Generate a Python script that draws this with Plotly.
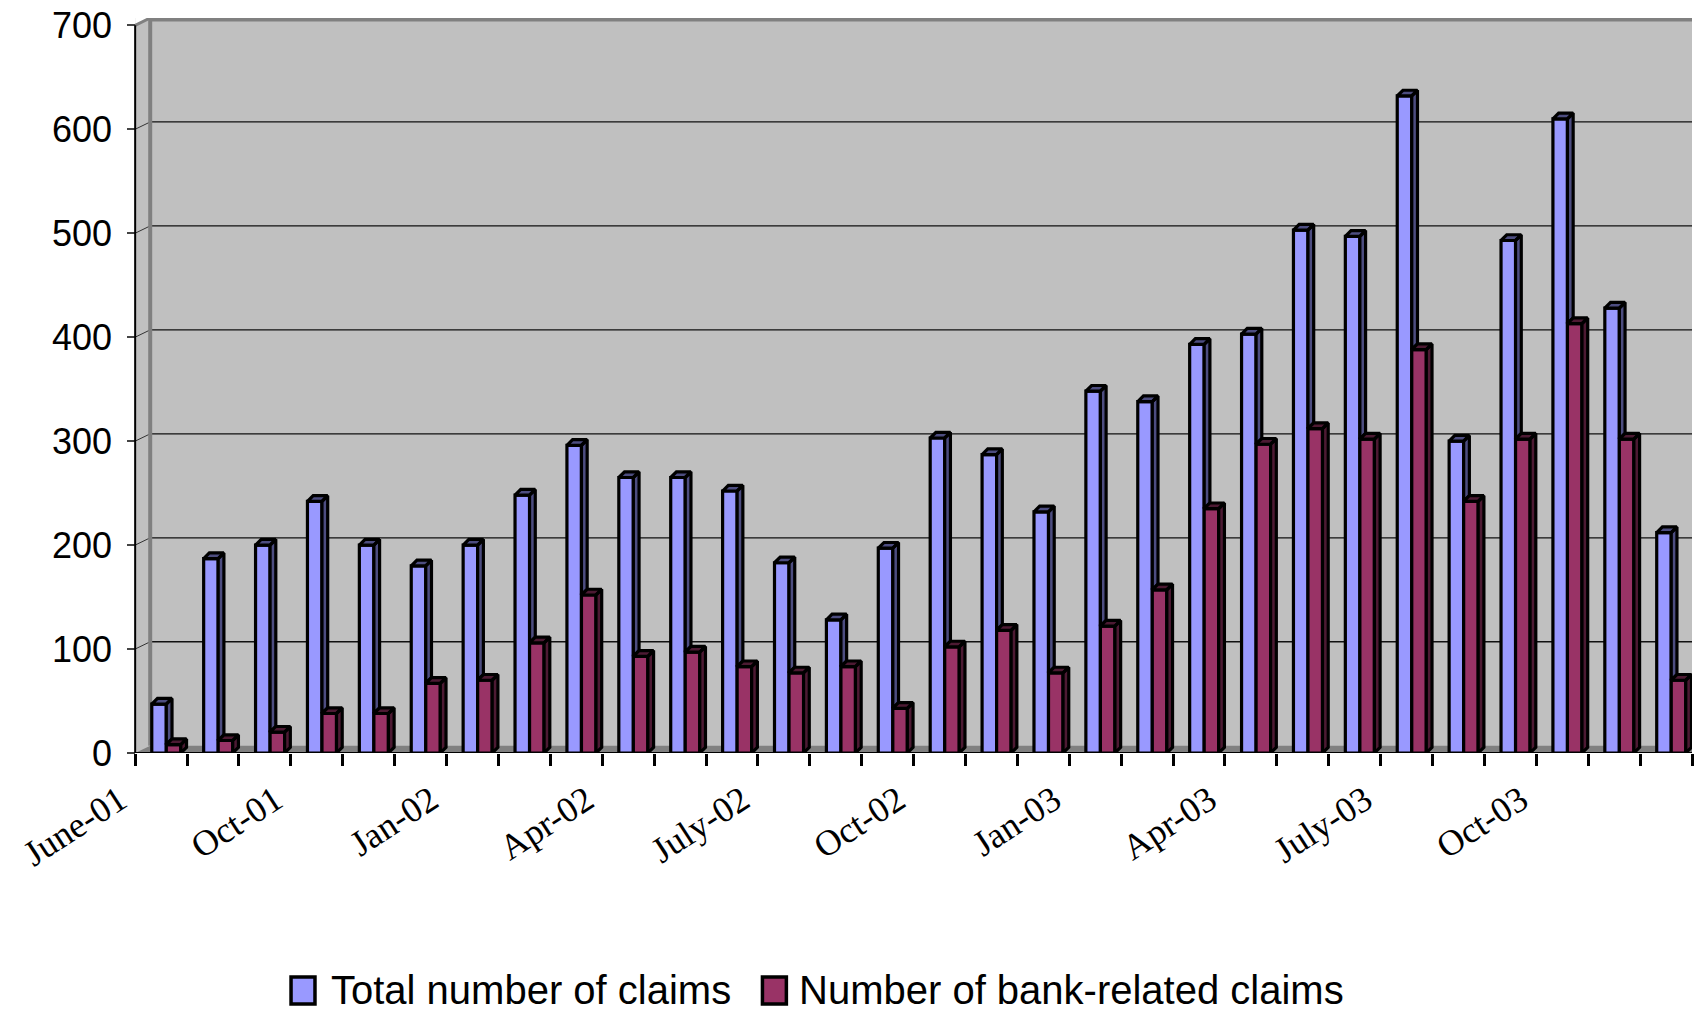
import plotly.graph_objects as go

# Monthly claims, June 2001 - November 2003
months = ["Jun-01", "Jul-01", "Aug-01", "Sep-01", "Oct-01", "Nov-01", "Dec-01",
          "Jan-02", "Feb-02", "Mar-02", "Apr-02", "May-02", "Jun-02", "Jul-02",
          "Aug-02", "Sep-02", "Oct-02", "Nov-02", "Dec-02", "Jan-03", "Feb-03",
          "Mar-03", "Apr-03", "May-03", "Jun-03", "Jul-03", "Aug-03", "Sep-03",
          "Oct-03", "Nov-03"]
total_claims = [47, 187, 200, 242, 200, 180, 200, 248, 296, 265,
                265, 252, 183, 128, 197, 303, 287, 232, 348, 338,
                393, 403, 503, 497, 632, 300, 493, 610, 428, 212]
bank_claims = [8, 12, 20, 38, 38, 67, 70, 106, 152, 93,
               97, 83, 77, 83, 43, 102, 118, 77, 122, 157,
               235, 297, 312, 302, 388, 242, 302, 413, 302, 70]

# axis labels shown every third category boundary
tick_labels = ["June-01", "Oct-01", "Jan-02", "Apr-02", "July-02",
               "Oct-02", "Jan-03", "Apr-03", "July-03", "Oct-03"]
y_ticks = [0, 100, 200, 300, 400, 500, 600, 700]
series_names = ["Total number of claims", "Number of bank-related claims"]

BLUE = "#9999FF"
BLUE_DARK = "#4D4D80"
MAROON = "#993366"
MAROON_DARK = "#4D1A33"

n = len(months)
idx = list(range(n))

# bar geometry in axis units
BAR_W = 0.28        # width of each bar
PAIR_SHIFT = 0.10   # shift of the pair centre within its category
EXT_X, EXT_Y = 0.11, 5.5    # bar extrusion (depth) offsets
WALL_X, WALL_Y = 0.29, 7    # back-wall offsets
LABEL_SHIFT = 0.3           # rotated labels end just left of their boundary
X0, X1 = -0.5, n - 0.5      # category axis extent
XR0 = -0.85                 # range start leaves room for the first label
Y_TOP = 707

fig = go.Figure()

fig.add_trace(go.Bar(
    x=idx, y=total_claims, name=series_names[0], showlegend=False,
    width=BAR_W, offset=PAIR_SHIFT - BAR_W,
    marker=dict(color=BLUE, line=dict(color="black", width=3.2)),
))
fig.add_trace(go.Bar(
    x=idx, y=bank_claims, name=series_names[1], showlegend=False,
    width=BAR_W, offset=PAIR_SHIFT,
    marker=dict(color=MAROON, line=dict(color="black", width=3.2)),
))


def extrusion(values, left_offset, clip_below=None):
    """Top and right-side faces for each bar, as gap-separated polygons."""
    xs, ys = [], []
    for i, v in enumerate(values):
        xl = i + left_offset
        xr = xl + BAR_W
        # top face
        xs += [xl, xr, xr + EXT_X, xl + EXT_X, xl, None]
        ys += [v, v, v + EXT_Y, v + EXT_Y, v, None]
        # side face (partly hidden by the neighbouring bar)
        base = 0 if clip_below is None else clip_below[i]
        if v > base:
            xs += [xr, xr + EXT_X, xr + EXT_X, xr, xr, None]
            ys += [base, base + EXT_Y, v + EXT_Y, v, base, None]
    return xs, ys


bx, by = extrusion(total_claims, PAIR_SHIFT - BAR_W, clip_below=bank_claims)
fig.add_trace(go.Scatter(
    x=bx, y=by, mode="lines", fill="toself", fillcolor=BLUE_DARK,
    line=dict(color="black", width=3.2), showlegend=False, hoverinfo="skip",
))
mx, my = extrusion(bank_claims, PAIR_SHIFT)
fig.add_trace(go.Scatter(
    x=mx, y=my, mode="lines", fill="toself", fillcolor=MAROON_DARK,
    line=dict(color="black", width=3.2), showlegend=False, hoverinfo="skip",
))

# walls, floor and gridlines of the chart box
shapes = []
wx = X0 + WALL_X
# blank strip left of the value axis
shapes.append(dict(type="rect", layer="below", line=dict(width=0),
                   fillcolor="white", x0=XR0, x1=X0, y0=0, y1=Y_TOP))
shapes.append(dict(type="path", layer="below", line=dict(width=0),
                   fillcolor="#808080",
                   path=f"M {X0},0 L {wx},{WALL_Y} L {X1},{WALL_Y} L {X1},0 Z"))
for v in y_ticks[1:-1]:
    shapes.append(dict(type="line", layer="below", x0=wx, x1=X1,
                       y0=v + WALL_Y, y1=v + WALL_Y,
                       line=dict(color="#111111", width=1.3)))
    shapes.append(dict(type="line", layer="below", x0=X0, x1=wx,
                       y0=v, y1=v + WALL_Y,
                       line=dict(color="#333333", width=1)))
shapes.append(dict(type="path", layer="below", line=dict(width=0),
                   fillcolor="white",
                   path=f"M {X0},{y_ticks[-1]} L {X0},{Y_TOP} L {wx},{Y_TOP} Z"))
shapes.append(dict(type="line", layer="below", x0=wx, x1=wx,
                   y0=WALL_Y, y1=Y_TOP, line=dict(color="#808080", width=4)))
shapes.append(dict(type="line", layer="below", x0=wx, x1=X1,
                   y0=Y_TOP - 1.5, y1=Y_TOP - 1.5,
                   line=dict(color="#808080", width=4)))
shapes.append(dict(type="line", layer="below", x0=X0, x1=wx,
                   y0=y_ticks[-1], y1=Y_TOP,
                   line=dict(color="#808080", width=3)))
# value axis and category axis lines
shapes.append(dict(type="line", layer="above", x0=X0, x1=X0,
                   y0=0, y1=y_ticks[-1], line=dict(color="black", width=2)))
shapes.append(dict(type="line", layer="above", x0=X0, x1=X1,
                   y0=-0.6, y1=-0.6, line=dict(color="black", width=3)))

# legend keys below the plot (paper coordinates)
LEG_Y0, LEG_Y1, LEG_YC = -0.3415, -0.3048, -0.3224
legend_keys = [(0.1105, 0.1257, 0.1346, BLUE),
               (0.4098, 0.4250, 0.4320, MAROON)]
annotations = []
for (kx0, kx1, tx, col), name in zip(legend_keys, series_names):
    shapes.append(dict(type="rect", xref="paper", yref="paper",
                       x0=kx0, x1=kx1, y0=LEG_Y0, y1=LEG_Y1,
                       fillcolor=col, line=dict(color="black", width=3.5)))
    annotations.append(dict(xref="paper", yref="paper", x=tx, y=LEG_YC,
                            xanchor="left", yanchor="middle", showarrow=False,
                            text=name,
                            font=dict(family="Liberation Sans, Arial, sans-serif",
                                      size=40, color="black")))

# category boundaries carry the tick marks; every third one is labelled
boundary_vals = [i - 0.5 for i in range(n + 1)]
label_vals = [3 * k - 0.5 - LABEL_SHIFT for k in range(len(tick_labels))]

MARGIN_L, MARGIN_R = 117, 5
yaxis_pos = (X0 - XR0) / (X1 - XR0)

fig.update_layout(
    width=1697, height=1011,
    margin=dict(l=MARGIN_L, r=MARGIN_R, t=18, b=258),
    paper_bgcolor="white", plot_bgcolor="#C0C0C0",
    barmode="overlay",
    shapes=shapes,
    annotations=annotations,
    showlegend=False,
    xaxis=dict(range=[XR0, X1], tickmode="array", tickvals=label_vals,
               ticktext=tick_labels, tickangle=-33, ticks="",
               minor=dict(tickmode="array", tickvals=boundary_vals,
                          ticks="outside", ticklen=12, tickwidth=3,
                          tickcolor="black", showgrid=False),
               showline=False, showgrid=False, zeroline=False,
               ticklabelstandoff=18,
               tickfont=dict(family="Liberation Serif, Times New Roman, serif",
                             size=36, color="black")),
    yaxis=dict(range=[0, Y_TOP], tickmode="array", tickvals=y_ticks,
               anchor="free", position=yaxis_pos,
               ticks="outside", ticklen=8, tickwidth=1.5, tickcolor="#444444",
               showline=False, showgrid=False, zeroline=False,
               ticklabelstandoff=8,
               tickfont=dict(family="Liberation Sans, Arial, sans-serif",
                             size=36, color="black")),
)

fig.write_html("out.html")
